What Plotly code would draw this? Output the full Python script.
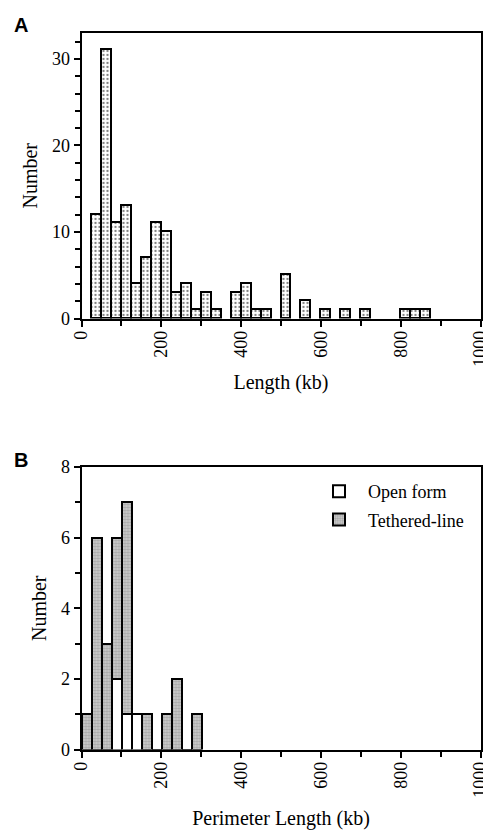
import plotly.graph_objects as go

# ---------------- data ----------------
BIN_WIDTH = 25  # kb

# Panel A: length distribution (bin start in kb, count)
a_bin_start = [25, 50, 75, 100, 125, 150, 175, 200, 225, 250, 275, 300, 325,
               375, 400, 425, 450, 500, 550, 600, 650, 700, 800, 825, 850]
a_counts = [12, 31, 11, 13, 4, 7, 11, 10, 3, 4, 1, 3, 1,
            3, 4, 1, 1, 5, 2, 1, 1, 1, 1, 1, 1]

# Panel B: perimeter length distribution, stacked
b_bin_start = [0, 25, 50, 75, 100, 125, 150, 175, 200, 225, 250, 275]
b_open = [0, 0, 0, 2, 1, 1, 0, 0, 0, 0, 0, 0]
b_tethered = [1, 6, 3, 4, 6, 0, 1, 0, 1, 2, 0, 1]

x_tick_vals = [0, 200, 400, 600, 800, 1000]
x_tick_text = ["0", "200", "400", "600", "800", "1000"]

SERIF = "Liberation Serif"
SANS = "Liberation Sans"

fig = go.Figure()

fig.add_trace(go.Bar(
    x=a_bin_start, y=a_counts, width=BIN_WIDTH, offset=0,
    xaxis="x", yaxis="y", showlegend=False,
    marker=dict(color="white", line=dict(color="black", width=1.8),
                pattern=dict(shape=".", fgcolor="black", bgcolor="white",
                             size=4, solidity=0.25)),
))

fig.add_trace(go.Bar(
    x=b_bin_start, y=b_open, width=BIN_WIDTH, offset=0,
    xaxis="x2", yaxis="y2", name="Open form", legendgroup="open",
    marker=dict(color="white", line=dict(color="black", width=2)),
))
fig.add_trace(go.Bar(
    x=b_bin_start, y=b_tethered, width=BIN_WIDTH, offset=0,
    xaxis="x2", yaxis="y2", name="Tethered-line", legendgroup="teth",
    marker=dict(color="#bcbcbc", line=dict(color="black", width=2),
                pattern=dict(shape=".", fgcolor="#7c7c7c", bgcolor="#d0d0d0",
                             size=3, solidity=0.5)),
))

# page body has an 8px margin: work in page pixels, shift into figure pixels
OFF = 8
W, H = 491 - OFF, 831 - OFF


def px(v):
    return v - OFF


L, R = px(81.5), px(480.5)
xdom = [L / W, R / W]
ydomA = [1 - px(318.5) / H, 1 - px(33) / H]
ydomB = [1 - px(749.5) / H, 1 - px(467) / H]

tickfont = dict(family=SERIF, size=18, color="black")
titlefont = dict(family=SERIF, size=20, color="black")


def xaxis(domain, anchor, title, standoff):
    return dict(domain=domain, anchor=anchor, range=[0, 1000],
                tickmode="array", tickvals=x_tick_vals, ticktext=x_tick_text,
                ticks="outside", ticklen=6, tickwidth=1.5, tickcolor="black",
                tickangle=-90, tickfont=tickfont, ticklabelstandoff=-3,
                minor=dict(dtick=100, tick0=0, ticks="outside", ticklen=5,
                           tickwidth=1.5, tickcolor="black", showgrid=False),
                showline=True, linewidth=2, linecolor="black", mirror=True,
                showgrid=False, zeroline=False, automargin=False,
                title=dict(text=title, font=titlefont, standoff=standoff))


def yaxis(domain, anchor, rng, dtick, minor_dtick, standoff):
    return dict(domain=domain, anchor=anchor, range=rng,
                dtick=dtick, tick0=0,
                ticks="outside", ticklen=6, tickwidth=1.5, tickcolor="black",
                tickfont=tickfont,
                minor=dict(dtick=minor_dtick, tick0=0, ticks="outside", ticklen=5,
                           tickwidth=1.5, tickcolor="black", showgrid=False),
                showline=True, linewidth=2, linecolor="black", mirror=True,
                showgrid=False, zeroline=False, automargin=False,
                title=dict(text="Number", font=titlefont, standoff=standoff))


fig.update_layout(
    width=W, height=H,
    margin=dict(l=0, r=0, t=0, b=0),
    paper_bgcolor="white", plot_bgcolor="white",
    barmode="stack", bargap=0,
    xaxis=xaxis(xdom, "y", "Length (kb)", 9),
    yaxis=yaxis(ydomA, "x", [0, 33], 10, 2, 9),
    xaxis2=xaxis(xdom, "y2", "Perimeter Length (kb)", 14),
    yaxis2=yaxis(ydomB, "x2", [0, 8], 2, 1, 9),
    legend=dict(x=px(310) / W, y=1 - px(473) / H, xanchor="left", yanchor="top",
                itemwidth=48,
                traceorder="grouped", tracegroupgap=2,
                bgcolor="rgba(0,0,0,0)", borderwidth=0,
                font=dict(family=SERIF, size=18, color="black")),
    annotations=[
        dict(text="<b>A</b>", x=px(20.5) / W, y=1 - px(25) / H, xref="paper", yref="paper",
             xanchor="center", yanchor="middle",
             showarrow=False, font=dict(family=SANS, size=20, color="black")),
        dict(text="<b>B</b>", x=px(20.5) / W, y=1 - px(460) / H, xref="paper", yref="paper",
             xanchor="center", yanchor="middle",
             showarrow=False, font=dict(family=SANS, size=20, color="black")),
    ],
)

fig.write_html("out.html")
